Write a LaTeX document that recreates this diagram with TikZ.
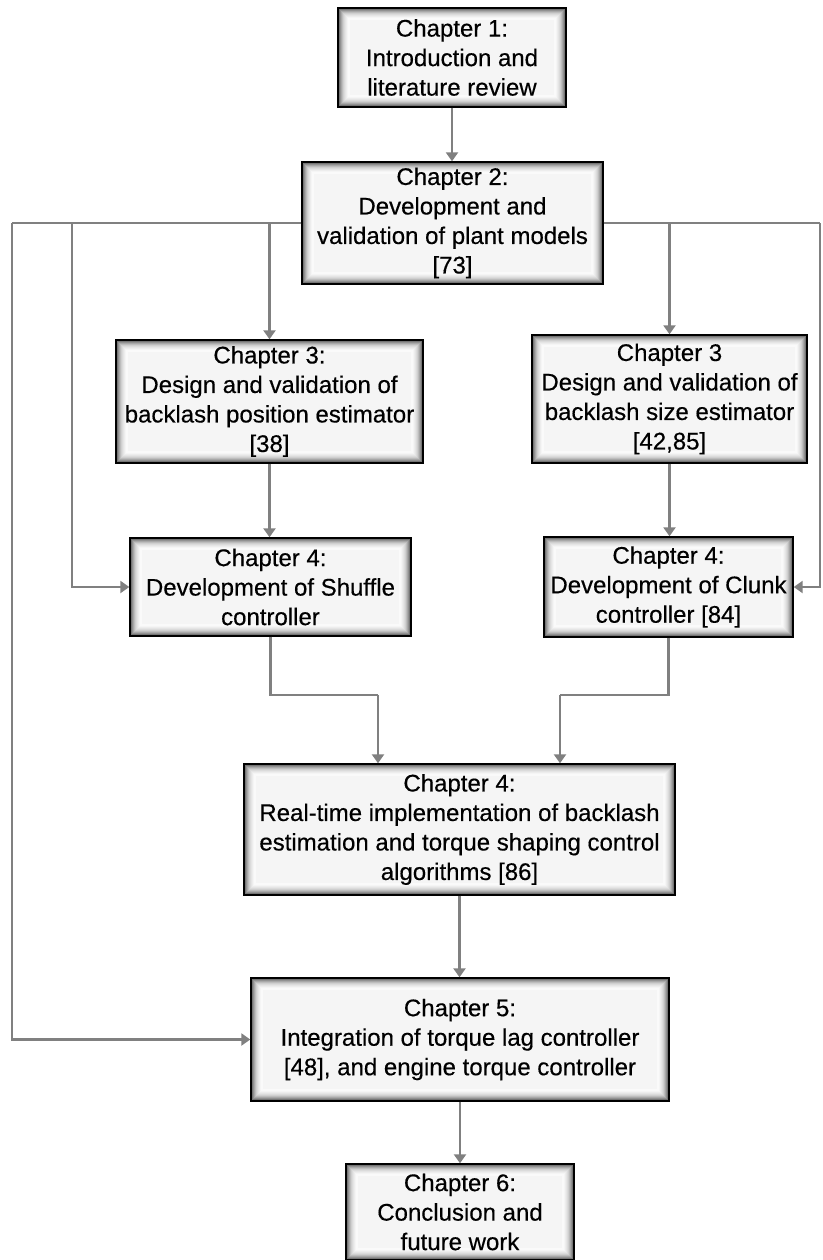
\documentclass[tikz,border=0pt]{standalone}
\usepackage{fontspec}
\setmainfont{Liberation Sans}
\newfontfamily\chapfont{Liberation Sans}[FakeBold=0.4]
\usetikzlibrary{arrows.meta}
\tikzset{
  chap/.style={draw=black, line width=1.4pt, fill=black!4, align=center, inner sep=0pt,
    font=\chapfont\fontsize{24}{29.5}\selectfont,
    path picture={
      \foreach \d/\c in {1/66,2/54,3/43,4/34,5/26,6/19,7/14,8/10,9/7,10/4,11/2}{
        \draw[black!\c, line width=1.1pt]
          ([shift={(\d pt,\d pt)}]path picture bounding box.south west) rectangle
          ([shift={(-\d pt,-\d pt)}]path picture bounding box.north east);
      }
    }},
  conn/.style={draw=black!50, line width=2.4pt, -{Triangle[width=12pt,length=9pt]}},
  plain/.style={draw=black!50, line width=2.4pt}
}
\begin{document}
\begin{tikzpicture}[x=1pt,y=1pt]
\useasboundingbox (0,0) rectangle (822,-1260);
\fill[white] (0,0) rectangle (822,-1260);

\node[chap, minimum width=228pt, minimum height=99pt] (c1) at (452,-57.5) {Chapter 1:\\Introduction and\\literature review};
\node[chap, minimum width=301pt, minimum height=122pt] (c2) at (452.5,-223) {Chapter 2:\\Development and\\validation of plant models\\{[73]}};
\node[chap, minimum width=307pt, minimum height=123pt] (c3a) at (269.5,-401.5) {Chapter 3:\\Design and validation of\\backlash position estimator\\{[38]}};
\node[chap, minimum width=275pt, minimum height=128pt] (c3b) at (669.5,-399) {Chapter 3\\Design and validation of\\backlash size estimator\\{[42,85]}};
\node[chap, minimum width=281pt, minimum height=98pt] (c4a) at (270.5,-587) {Chapter 4:\\Development of Shuffle\\controller};
\node[chap, minimum width=249pt, minimum height=100pt] (c4b) at (668.5,-587) {Chapter 4:\\Development of Clunk\\controller [84]};
\node[chap, minimum width=431pt, minimum height=131pt] (c4c) at (459.5,-829.5) {Chapter 4:\\Real-time implementation of backlash\\estimation and torque shaping control\\algorithms [86]};
\node[chap, minimum width=418pt, minimum height=123pt] (c5) at (460,-1039.5) {Chapter 5:\\Integration of torque lag controller\\{[48]}, and engine torque controller};
\node[chap, minimum width=228pt, minimum height=96pt] (c6) at (460,-1212) {Chapter 6:\\Conclusion and\\future work};

\coordinate (L) at (12,-223);
\coordinate (Lb) at (72,-223);
\coordinate (R) at (820,-223);
\coordinate (ja) at (378,-695);
\coordinate (jb) at (560,-695);

\draw[conn] (c1.south) -- (c1.south |- c2.north);
\draw[plain] (c2.west) -- (L);
\draw[conn] (L) |- (c5.west);
\draw[conn] (Lb) |- (c4a.west);
\draw[conn] (c3a.north |- c2.west) -- (c3a.north);
\draw[plain] (c2.east) -- (R);
\draw[conn] (R) |- (c4b.east);
\draw[conn] (c3b.north |- c2.east) -- (c3b.north);
\draw[conn] (c3a.south) -- (c3a.south |- c4a.north);
\draw[conn] (c3b.south) -- (c3b.south |- c4b.north);
\draw[plain] (c4a.south) |- (ja);
\draw[conn] (ja) -- (ja |- c4c.north);
\draw[plain] (c4b.south) |- (jb);
\draw[conn] (jb) -- (jb |- c4c.north);
\draw[conn] (c4c.south) -- (c4c.south |- c5.north);
\draw[conn] (c5.south) -- (c5.south |- c6.north);
\end{tikzpicture}
\end{document}
